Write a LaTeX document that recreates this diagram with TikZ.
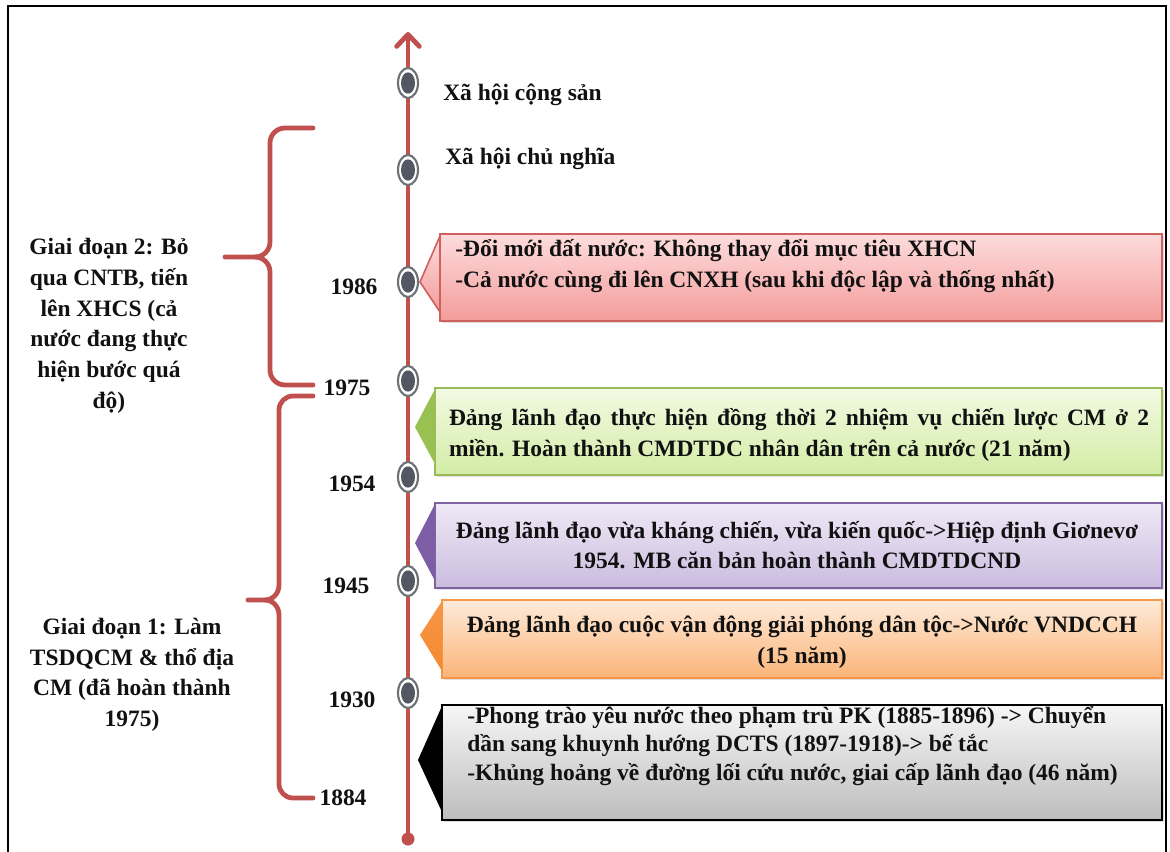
\documentclass[tikz,border=0pt]{standalone}
\usepackage{fontspec}
\setmainfont{Liberation Serif}
\usepackage{tikz}
\usetikzlibrary{arrows.meta, shapes.geometric, shadows}
\definecolor{Ink}{HTML}{111111}
\definecolor{AxisRed}{HTML}{C0504D}
\definecolor{RingGray}{HTML}{6E7178}
\definecolor{DotGray}{HTML}{535862}
\definecolor{RedEdge}{HTML}{D0605E}
\definecolor{RedTop}{HTML}{FDDCDC}
\definecolor{RedBot}{HTML}{F39C9B}
\definecolor{GreenEdge}{HTML}{9BBB59}
\definecolor{GreenTop}{HTML}{F3FAE3}
\definecolor{GreenBot}{HTML}{D3ECA6}
\definecolor{GreenTip}{HTML}{98C152}
\definecolor{PurpleEdge}{HTML}{8064A2}
\definecolor{PurpleTop}{HTML}{EFE9F6}
\definecolor{PurpleBot}{HTML}{CBBCDF}
\definecolor{PurpleTip}{HTML}{7D5EA6}
\definecolor{OrangeEdge}{HTML}{F79646}
\definecolor{OrangeTop}{HTML}{FEEBDA}
\definecolor{OrangeBot}{HTML}{FBB478}
\definecolor{OrangeTip}{HTML}{F38A30}
\definecolor{GrayTop}{HTML}{F6F6F6}
\definecolor{GrayBot}{HTML}{BDBDBD}

\begin{document}
\begin{tikzpicture}[
  x=0.75pt, y=-0.75pt,
  font=\bfseries\fontsize{17.6}{23}\selectfont,
  frame/.style={draw=black, line width=2.2pt},
  axis/.style={draw=AxisRed, line width=3.6pt},
  brace/.style={draw=AxisRed, line width=3.6pt, line cap=round, line join=round},
  ring/.style={ellipse, draw=RingGray, line width=1.6pt, fill=white, minimum width=15pt, minimum height=22.5pt, inner sep=0pt},
  dot/.style={ellipse, fill=DotGray, minimum width=10.5pt, minimum height=16pt, inner sep=0pt},
  card/.style={line width=1.2pt, drop shadow={shadow xshift=1.5pt, shadow yshift=-1.5pt, opacity=0.25}},
  note/.style={inner sep=0pt, text=Ink}
]
\useasboundingbox (0,0) rectangle (1170,852);
\draw[frame] (8,852) -- (8,6) -- (1166,6) -- (1166,852);

% time axis
\coordinate (axisTop) at (408,32);
\node[circle, fill=AxisRed, minimum size=9.75pt, inner sep=0pt] (axisEnd) at (408,839) {};
\draw[axis, -{Straight Barb[length=9pt, width=17pt, round]}] (axisEnd.center) -- (axisTop);

\foreach \yy/\tag in {83/xhcs, 170/xhcn, 282/1986, 381/1975, 477/1954, 581/1945, 693/1930} {
  \node[ring] (ring-\tag) at (408,\yy) {};
  \node[dot] (dot-\tag) at (408,\yy) {};
}

\node[note, anchor=base west] (commun) at (443,101) {Xã hội cộng sản};
\node[note, anchor=base west] (social) at (445,165) {Xã hội chủ nghĩa};

% years
\node[note] (y1986) at (354,287) {1986};
\node[note] (y1975) at (347,388) {1975};
\node[note] (y1954) at (352,484) {1954};
\node[note] (y1945) at (346,586) {1945};
\node[note] (y1930) at (352,700) {1930};
\node[note] (y1884) at (343,798) {1884};

% braces
\draw[brace] (313,128) -- (285,128) to[out=180,in=90] (270,143) -- (270,242)
  to[out=-90,in=0] (255,257) -- (225,257);
\draw[brace] (255,257) to[out=0,in=90] (270,272) -- (270,370)
  to[out=-90,in=180] (285,385) -- (313,385);
\draw[brace] (313,396) -- (293,396) to[out=180,in=90] (279,410) -- (279,585)
  to[out=-90,in=0] (265,600) -- (248,600);
\draw[brace] (265,600) to[out=0,in=90] (279,615) -- (279,784)
  to[out=-90,in=180] (293,798) -- (313,798);

\node[note, align=center] (phaseTwo) at (109,326) {Giai đoạn 2: Bỏ\\qua CNTB, tiến\\lên XHCS (cả\\nước đang thực\\hiện bước quá\\độ)};
\node[note, align=center] (phaseOne) at (132,675) {Giai đoạn 1: Làm\\TSDQCM \& thổ địa\\CM (đã hoàn thành\\1975)};

% callouts
\path[draw=RedEdge, line width=1.2pt, top color=RedTop, bottom color=RedBot] (440,236) -- (420,282) -- (440,312);
\path[card, draw=RedEdge, top color=RedTop, bottom color=RedBot] (440,234) rectangle (1162,321);
\node[note, anchor=west, align=left] (renewal) at (455,266) {-Đổi mới đất nước: Không thay đổi mục tiêu XHCN\\-Cả nước cùng đi lên CNXH (sau khi độc lập và thống nhất)};

\path[card, draw=GreenEdge, top color=GreenTop, bottom color=GreenBot] (435,388) rectangle (1162,475);
\fill[GreenTip] (435,389) -- (415,427) -- (435,464) -- cycle;
\node[note, align=left] (twoTasks) at (799,435) {\makebox[525pt][s]{Đảng lãnh đạo thực hiện đồng thời 2 nhiệm vụ chiến lược CM ở 2}\\miền. Hoàn thành CMDTDC nhân dân trên cả nước (21 năm)};

\path[card, draw=PurpleEdge, top color=PurpleTop, bottom color=PurpleBot] (435,503) rectangle (1162,588);
\fill[PurpleTip] (435,504) -- (415,543) -- (435,581) -- cycle;
\node[note, align=center] (resist) at (797,545) {Đảng lãnh đạo vừa kháng chiến, vừa kiến quốc->Hiệp định Giơnevơ\\1954. MB căn bản hoàn thành CMDTDCND};

\path[card, draw=OrangeEdge, top color=OrangeTop, bottom color=OrangeBot] (442,600) rectangle (1162,678);
\shade[top color=OrangeEdge, bottom color=OrangeTip] (442,601) -- (420,635) -- (442,671) -- cycle;
\node[note, align=center] (liberate) at (802,642) {Đảng lãnh đạo cuộc vận động giải phóng dân tộc->Nước VNDCCH\\(15 năm)};

\path[card, draw=black, line width=1.6pt, top color=GrayTop, bottom color=GrayBot] (442,705) rectangle (1162,820);
\fill[black] (442,706) -- (418,760) -- (442,812) -- cycle;
\node[note, anchor=west, align=left, font=\bfseries\fontsize{17.6}{21.5}\selectfont] (crisis) at (467,746) {-Phong trào yêu nước theo phạm trù PK (1885-1896) -> Chuyển\\dần sang khuynh hướng DCTS (1897-1918)-> bế tắc\\-Khủng hoảng về đường lối cứu nước, giai cấp lãnh đạo (46 năm)};
\end{tikzpicture}
\end{document}
